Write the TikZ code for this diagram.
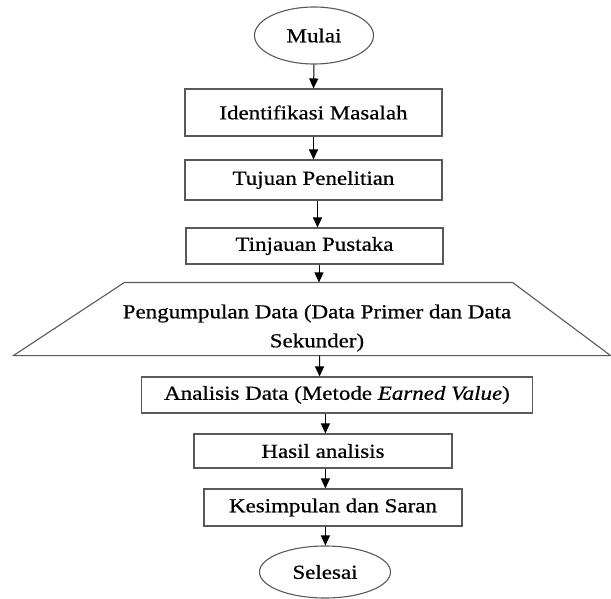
\documentclass[tikz,border=0pt]{standalone}
\usepackage{fontspec}
\setmainfont{Liberation Serif}[FakeStretch=1.16, FakeBold=0.6]
\usetikzlibrary{shapes,arrows.meta}

\begin{document}
\begin{tikzpicture}[x=1pt, y=-1pt, font=\fontsize{19.8}{29}\selectfont,
		panah/.style={-{Triangle[length=10pt,width=9pt]}, line width=1pt},
		garis/.style={draw=black!65, line width=1.1pt}]
	\useasboundingbox (0,0) rectangle (611,599);
		\begin{scope}[every node/.style={garis, inner sep=0pt}]
			\node[ellipse, minimum width=119pt, minimum height=57pt] (mulai) at (314,35.5) {Mulai};
			\node[minimum width=257pt, minimum height=47pt] (identifikasi) at (313.5,112.5) {Identifikasi Masalah};
			\node[minimum width=257pt, minimum height=40pt] (tujuan) at (313.5,180) {Tujuan Penelitian};
			\node[minimum width=257pt, minimum height=36pt] (tinjauan) at (314.5,246) {Tinjauan Pustaka};
			\node[draw=none, minimum width=387pt, minimum height=72pt] (kumpul) at (318.5,319) {};
			\node[minimum width=391pt, minimum height=36pt] (analisis) at (337,395) {Analisis Data (Metode \textit{Earned Value})};
			\node[minimum width=258pt, minimum height=34pt] (hasil) at (323,451) {Hasil analisis};
			\node[minimum width=258pt, minimum height=37pt] (kesimpulan) at (333,507.5) {Kesimpulan dan Saran};
			\node[ellipse, minimum width=131pt, minimum height=52pt] (selesai) at (325,572) {Selesai};
		\end{scope}
		% trapesium pengumpulan data
		\draw[garis] (kumpul.north west) -- (kumpul.north east)
			-- ([xshift=98pt]kumpul.south east) -- ([xshift=-111pt]kumpul.south west) -- cycle;
		\node[align=center, inner sep=0pt] (kumpulteks) at (317,328) {Pengumpulan Data (Data Primer dan Data\\Sekunder)};
		\begin{scope}[every path/.style={panah}]
			\draw (mulai.south) -- (identifikasi.north);
			\draw (identifikasi.south) -- (tujuan.north);
			\draw ([xshift=4pt]tujuan.south) -- ([xshift=3pt]tinjauan.north);
			\draw ([xshift=4.5pt]tinjauan.south) -- ([xshift=0.5pt]kumpul.north);
			\draw ([xshift=1pt]kumpul.south) -- ([xshift=-17.4pt]analisis.north);
			\draw ([xshift=-11.6pt]analisis.south) -- ([xshift=2.4pt]hasil.north);
			\draw ([xshift=2.4pt]hasil.south) -- ([xshift=-7.6pt]kesimpulan.north);
			\draw ([xshift=-7.6pt]kesimpulan.south) -- ([xshift=0.4pt]selesai.north);
		\end{scope}
\end{tikzpicture}
\end{document}
